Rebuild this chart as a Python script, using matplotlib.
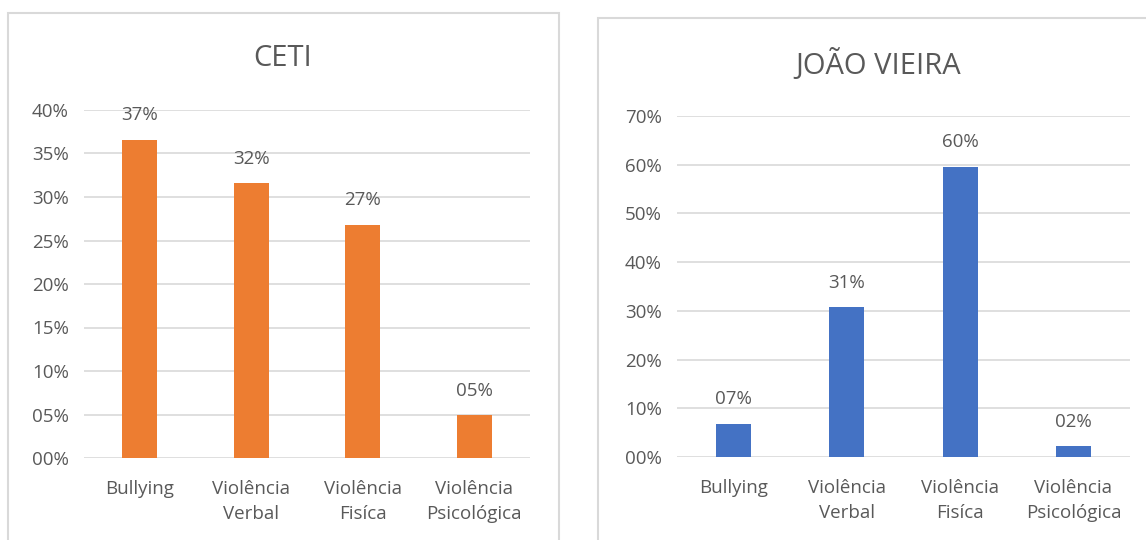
import matplotlib
matplotlib.use('Agg')
import matplotlib.pyplot as plt
from matplotlib.patches import Rectangle
from matplotlib.ticker import FuncFormatter

categorias = ['Bullying', 'Violência\nVerbal', 'Violência\nFisíca', 'Violência\nPsicológica']
ceti = [0.366, 0.316, 0.268, 0.049]
joao_vieira = [0.068, 0.308, 0.596, 0.022]

plt.rcParams['font.family'] = ['Open Sans', 'DejaVu Sans']
CINZA = '#595959'
GRADE = '#D9D9D9'

W, H = 1146, 540
fig = plt.figure(figsize=(W / 100, H / 100), dpi=100)


def px_box(x0, y0, x1, y1):
    # caixa em pixels (origem no topo) -> fração da figura
    return [x0 / W, 1 - y1 / H, (x1 - x0) / W, (y1 - y0) / H]


# molduras dos dois gráficos
for x0, y0, x1, y1 in [(8, 13, 559, 560), (598, 18, 1160, 560)]:
    fig.patches.append(Rectangle((x0 / W, 1 - y1 / H), (x1 - x0) / W, (y1 - y0) / H,
                                 transform=fig.transFigure, fill=False,
                                 edgecolor=GRADE, lw=1.5))

pct = FuncFormatter(lambda v, _: f'{round(v * 100):02d}%')


def grafico(pos, valores, cor, titulo, ymax, passo, titulo_xy):
    ax = fig.add_axes(pos)
    x = range(len(categorias))
    barras = ax.bar(x, valores, width=0.31, color=cor, zorder=3)
    ax.set_ylim(0, ymax)
    ax.set_xlim(-0.5, len(categorias) - 0.5)
    ax.set_yticks([i * passo for i in range(int(round(ymax / passo)) + 1)])
    ax.yaxis.set_major_formatter(pct)
    ax.set_xticks(list(x))
    ax.set_xticklabels(categorias)
    ax.grid(axis='y', color=GRADE, lw=1.2, zorder=0)
    for s in ax.spines.values():
        s.set_visible(False)
    ax.tick_params(axis='both', length=0, labelsize=13.5, labelcolor=CINZA)
    ax.tick_params(axis='y', pad=11)
    ax.tick_params(axis='x', pad=16)
    for t in ax.get_xticklabels():
        t.set_linespacing(1.45)
    for b, v in zip(barras, valores):
        ax.annotate(f'{round(v * 100):02d}%', (b.get_x() + b.get_width() / 2, v),
                    xytext=(0, 14), textcoords='offset points', ha='center',
                    va='baseline', fontsize=13.5, color=CINZA)
    fig.text(titulo_xy[0] / W, 1 - titulo_xy[1] / H, titulo, ha='center', va='center',
             fontsize=21, color=CINZA)
    return ax


grafico(px_box(84, 110, 530, 458), ceti, '#ED7D31', 'CETI', 0.4, 0.05, (283, 58))
grafico(px_box(677, 116, 1130, 457), joao_vieira, '#4472C4', 'JOÃO VIEIRA', 0.7, 0.1, (878, 65))

fig.savefig('out.png', dpi=100)
